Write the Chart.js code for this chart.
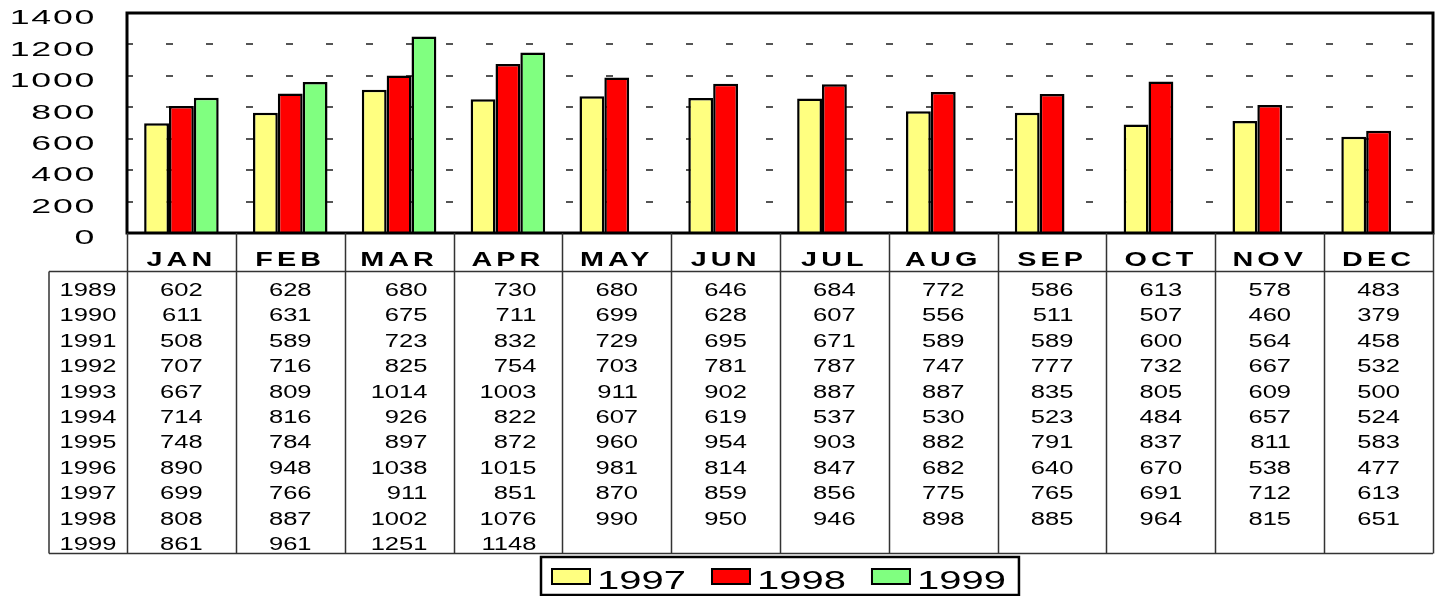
<!DOCTYPE html>
<html>
<head>
<meta charset="utf-8">
<script src="https://cdn.jsdelivr.net/npm/chart.js@4.4.1/dist/chart.umd.min.js"></script>
<style>
  html, body { margin: 0; padding: 0; background: #fff; }
  #wrap { position: relative; width: 1437px; height: 596px; }
</style>
</head>
<body>
<div id="wrap"><canvas id="rainChart"></canvas></div>
<script>
const months = ['JAN', 'FEB', 'MAR', 'APR', 'MAY', 'JUN', 'JUL', 'AUG', 'SEP', 'OCT', 'NOV', 'DEC'];
const tableYears = ['1989', '1990', '1991', '1992', '1993', '1994', '1995', '1996', '1997', '1998', '1999'];
const y1989 = [602, 628, 680, 730, 680, 646, 684, 772, 586, 613, 578, 483];
const y1990 = [611, 631, 675, 711, 699, 628, 607, 556, 511, 507, 460, 379];
const y1991 = [508, 589, 723, 832, 729, 695, 671, 589, 589, 600, 564, 458];
const y1992 = [707, 716, 825, 754, 703, 781, 787, 747, 777, 732, 667, 532];
const y1993 = [667, 809, 1014, 1003, 911, 902, 887, 887, 835, 805, 609, 500];
const y1994 = [714, 816, 926, 822, 607, 619, 537, 530, 523, 484, 657, 524];
const y1995 = [748, 784, 897, 872, 960, 954, 903, 882, 791, 837, 811, 583];
const y1996 = [890, 948, 1038, 1015, 981, 814, 847, 682, 640, 670, 538, 477];
const y1997 = [699, 766, 911, 851, 870, 859, 856, 775, 765, 691, 712, 613];
const y1998 = [808, 887, 1002, 1076, 990, 950, 946, 898, 885, 964, 815, 651];
const y1999 = [861, 961, 1251, 1148, null, null, null, null, null, null, null, null];
const tableValues = [y1989, y1990, y1991, y1992, y1993, y1994, y1995, y1996, y1997, y1998, y1999];
const seriesNames = ['1997', '1998', '1999'];
const yTicks = [0, 200, 400, 600, 800, 1000, 1200, 1400];

const FONT = 'Arial, "Liberation Sans", sans-serif';
Chart.defaults.font.family = FONT;
Chart.defaults.color = '#000';

// the original text is horizontally stretched, so draw it squeezed out with a scale
function wideText(ctx, text, x, y, sx) {
    ctx.save();
    ctx.translate(x, y);
    ctx.scale(sx, 1);
    ctx.fillText(text, 0, 0);
    ctx.restore();
}

function stretchLabels(scale, sx, spacing) {
    scale.drawLabels = function (chartArea) {
        const ctx = this.ctx;
        this.getLabelItems(chartArea).forEach(item => {
            const o = item.options;
            ctx.save();
            ctx.font = item.font.string;
            ctx.fillStyle = o.color;
            ctx.textAlign = o.textAlign;
            ctx.textBaseline = o.textBaseline;
            ctx.letterSpacing = spacing + 'px';
            ctx.translate(o.translation[0], o.translation[1]);
            ctx.scale(sx, 1);
            ctx.fillText(item.label, 0, item.textOffset);
            ctx.restore();
        });
    };
}

// table under the axis, legend box and the plot frame
const tablePlugin = {
    id: 'dataTable',
    beforeDraw(chart) {
        if (!chart._stretched) {
            stretchLabels(chart.scales.y, 1.7, 1);
            stretchLabels(chart.scales.x, 1.37, 3);
            chart._stretched = true;
        }
    },
    afterDatasetsDraw(chart) {
        const ctx = chart.ctx, a = chart.chartArea;
        ctx.save();
        ctx.strokeStyle = '#000';
        ctx.lineWidth = 3;
        ctx.strokeRect(a.left, a.top, a.right - a.left, a.bottom - a.top);
        ctx.restore();
    },
    afterDraw(chart) {
        const ctx = chart.ctx, a = chart.chartArea, x = chart.scales.x;
        const colW = x.getPixelForValue(1) - x.getPixelForValue(0);
        const yearLeft = 49;
        const headBottom = a.bottom + 38.5;
        const rowH = 25.4;
        const tableBottom = headBottom + rowH * tableYears.length + 2.5;

        ctx.save();
        ctx.strokeStyle = '#333';
        ctx.lineWidth = 1.5;
        ctx.beginPath();
        for (let i = 0; i <= months.length; i++) {
            const px = Math.round(x.getPixelForValue(i) - colW / 2) + 0.5;
            ctx.moveTo(px, a.bottom);
            ctx.lineTo(px, tableBottom);
        }
        ctx.moveTo(yearLeft, headBottom);
        ctx.lineTo(a.right, headBottom);
        ctx.moveTo(yearLeft, headBottom);
        ctx.lineTo(yearLeft, tableBottom);
        ctx.moveTo(yearLeft, tableBottom);
        ctx.lineTo(a.right, tableBottom);
        ctx.stroke();

        const tsx = 1.42;
        ctx.font = '18px ' + FONT;
        ctx.fillStyle = '#000';
        ctx.textBaseline = 'alphabetic';
        ctx.textAlign = 'center';
        const yearCx = (yearLeft + a.left) / 2;
        tableYears.forEach((yr, r) => {
            wideText(ctx, yr, yearCx, headBottom + 24.5 + r * rowH, tsx);
        });
        ctx.textAlign = 'right';
        months.forEach((m, c) => {
            const cx = x.getPixelForValue(c);
            let maxW = 0;
            tableValues.forEach(row => {
                if (row[c] != null) maxW = Math.max(maxW, ctx.measureText(String(row[c])).width * tsx);
            });
            tableValues.forEach((row, r) => {
                if (row[c] == null) return;
                wideText(ctx, String(row[c]), cx + maxW / 2, headBottom + 24.5 + r * rowH, tsx);
            });
        });

        // legend
        const lsx = 1.6;
        ctx.font = '25px ' + FONT;
        ctx.textAlign = 'left';
        const sw = 38, sh = 15, gap = 7, itemGap = 26, padL = 11, padR = 13;
        const items = chart.data.datasets.map(ds => ({ ds, w: ctx.measureText(ds.label).width * lsx }));
        let total = padL + padR;
        items.forEach((it, i) => { total += sw + gap + it.w + (i < items.length - 1 ? itemGap : 0); });
        const boxL = Math.round((a.left + a.right) / 2 - total / 2);
        const boxT = 557, boxB = 595;
        ctx.lineWidth = 2.5;
        ctx.strokeStyle = '#000';
        ctx.strokeRect(boxL, boxT, total, boxB - boxT);
        let lx = boxL + padL;
        items.forEach(it => {
            ctx.fillStyle = it.ds.backgroundColor;
            ctx.fillRect(lx, 569, sw, sh);
            ctx.lineWidth = 2;
            ctx.strokeRect(lx, 569, sw, sh);
            ctx.fillStyle = '#000';
            wideText(ctx, it.ds.label, lx + sw + gap, 589, lsx);
            lx += sw + gap + it.w + itemGap;
        });
        ctx.restore();
    }
};

new Chart(document.getElementById('rainChart'), {
    type: 'bar',
    data: {
        labels: months,
        datasets: [
            { label: seriesNames[0], data: y1997, backgroundColor: '#FFFF80' },
            { label: seriesNames[1], data: y1998, backgroundColor: '#FF0000' },
            { label: seriesNames[2], data: y1999, backgroundColor: '#80FF80' }
        ]
    },
    options: {
        responsive: true,
        maintainAspectRatio: false,
        animation: false,
        layout: { padding: { top: 13, right: 4, left: 0, bottom: 0 } },
        datasets: {
            bar: {
                categoryPercentage: 0.685,
                barPercentage: 1,
                borderColor: '#000',
                borderWidth: 2.5
            }
        },
        plugins: {
            legend: { display: false },
            tooltip: { enabled: false }
        },
        scales: {
            x: {
                offset: true,
                grid: { display: false, drawTicks: false },
                border: { display: false },
                ticks: {
                    font: { size: 21, weight: 'bold' },
                    padding: 15,
                    maxRotation: 0,
                    autoSkip: false
                },
                afterFit(s) { s.height = 363; s.paddingLeft = 0; s.paddingRight = 0; }
            },
            y: {
                min: 0,
                max: 1400,
                afterBuildTicks(s) { s.ticks = yTicks.map(v => ({ value: v })); },
                grid: {
                    color: '#555',
                    lineWidth: 2,
                    drawTicks: false,
                    borderDash: [7, 33],
                    borderDashOffset: 1
                },
                border: { display: false, dash: [7, 33], dashOffset: 1 },
                ticks: {
                    font: { size: 21 },
                    padding: 31,
                    labelOffset: 5.5,
                    callback: v => String(v)
                },
                afterFit(s) { s.width = 127; s.paddingTop = 0; s.paddingBottom = 0; }
            }
        }
    },
    plugins: [tablePlugin]
});
</script>
</body>
</html>
